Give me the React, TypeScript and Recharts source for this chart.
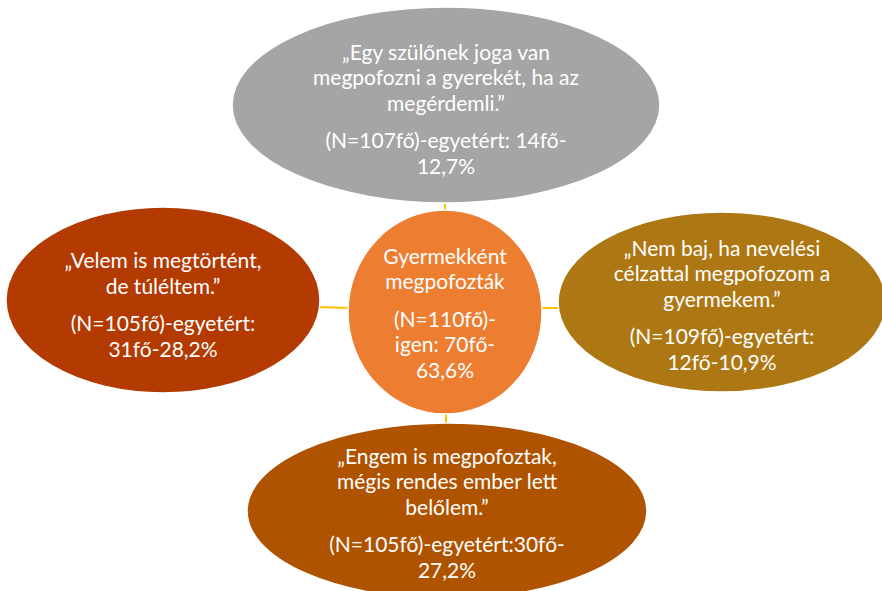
import { ScatterChart, Scatter, XAxis, YAxis, ReferenceLine } from 'recharts';

// survey values
const nodeIds = ['top', 'right', 'bottom', 'left', 'center'];
const quoteLines = [
  ['„Egy szülőnek joga van', 'megpofozni a gyerekét, ha az', 'megérdemli.”'],
  ['„Nem baj, ha nevelési', 'célzattal megpofozom a', 'gyermekem.”'],
  ['„Engem is megpofoztak,', 'mégis rendes ember lett', 'belőlem.”'],
  ['„Velem is megtörtént,', 'de túléltem.”'],
  ['Gyermekként', 'megpofozták'],
];
const sampleN = [107, 109, 105, 105, 110];
const agreeCount = [14, 12, 30, 31, 70];
const agreePct = ['12,7', '10,9', '27,2', '28,2', '63,6'];

const statLines = (i: number) => {
  const n = sampleN[i];
  const c = agreeCount[i];
  const p = agreePct[i];
  switch (nodeIds[i]) {
    case 'top':
      return [`(N=${n}fő)-egyetért: ${c}fő-`, `${p}%`];
    case 'bottom':
      return [`(N=${n}fő)-egyetért:${c}fő-`, `${p}%`];
    case 'center':
      return [`(N=${n}fő)-`, `igen: ${c}fő-`, `${p}%`];
    default:
      return [`(N=${n}fő)-egyetért:`, `${c}fő-${p}%`];
  }
};

// diagram layout (pixel space)
const layout: Record<string, any> = {
  top: { x: 446, y: 105, rx: 214, ry: 98, fill: '#a5a5a5', ty: 108 },
  right: { x: 722, y: 302, rx: 164, ry: 90, fill: '#ad7713', ty: 304 },
  bottom: { x: 447, y: 511, rx: 200, ry: 88, fill: '#b05300', ty: 512 },
  left: { x: 163, y: 300, rx: 157, ry: 93, fill: '#b33a01', ty: 304 },
  center: { x: 445, y: 312, rx: 97, ry: 102, fill: '#ed7d31', ty: 312 },
};

const connectors = [
  [{ x: 445, y: 200 }, { x: 445, y: 212 }],
  [{ x: 446, y: 412 }, { x: 446, y: 425 }],
  [{ x: 318, y: 307 }, { x: 350, y: 308 }],
  [{ x: 540, y: 308 }, { x: 560, y: 308 }],
];

const nodes = nodeIds.map((id, i) => ({
  id,
  ...layout[id],
  quote: quoteLines[i],
  stats: statLines(i),
}));

const LINE = 25.5;
const GAP = 12;

const Bubble = (props: any) => {
  const { cx, cy, payload } = props;
  const { rx, ry, fill, quote, stats, ty } = payload;
  const total = (quote.length + stats.length - 1) * LINE + GAP;
  const start = cy + (ty - payload.y) - total / 2;
  const lines = [
    ...quote.map((t: string, k: number) => ({ t, y: start + k * LINE })),
    ...stats.map((t: string, k: number) => ({ t, y: start + (quote.length + k) * LINE + GAP })),
  ];
  return (
    <g>
      <ellipse cx={cx} cy={cy} rx={rx} ry={ry} fill={fill} stroke="#ffffff" strokeWidth={1.5} />
      {lines.map((l, k) => (
        <text
          key={k}
          x={cx + (payload.tx || 0)}
          y={l.y}
          textAnchor="middle"
          dominantBaseline="central"
          fill="#ffffff"
          fontSize={21}
          fontFamily="Lato, 'Open Sans', sans-serif"
        >
          {l.t}
        </text>
      ))}
    </g>
  );
};

export default function App() {
  return (
    <div style={{ position: 'absolute', left: 0, top: 0, background: '#ffffff' }}>
      <ScatterChart width={882} height={591} margin={{ top: 0, right: 0, bottom: 0, left: 0 }}>
        <XAxis type="number" dataKey="x" domain={[0, 882]} hide allowDataOverflow />
        <YAxis type="number" dataKey="y" domain={[0, 591]} reversed hide allowDataOverflow />
        {connectors.map((seg, i) => (
          <ReferenceLine key={i} segment={seg} stroke="#ffc000" strokeWidth={2} ifOverflow="visible" />
        ))}
        <Scatter data={nodes} shape={<Bubble />} isAnimationActive={false} />
      </ScatterChart>
    </div>
  );
}
